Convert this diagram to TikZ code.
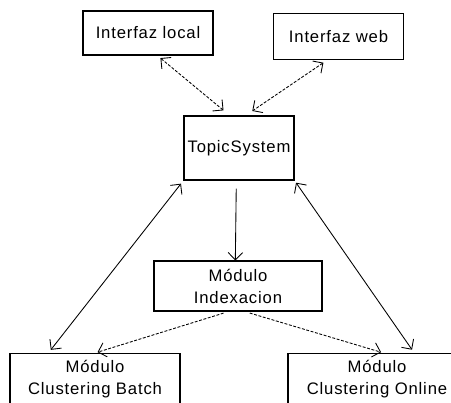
\documentclass[tikz,border=0pt]{standalone}
\usepackage{fontspec}
\setmainfont{Liberation Sans}[LetterSpace=5]
\usetikzlibrary{positioning,calc,arrows.meta}

\tikzset{
	modbox/.style={draw,line width=.8pt,align=center,inner sep=0pt},
	cutbox/.style={modbox,anchor=north,inner ysep=5pt},
	dashlink/.style={dash pattern=on 2.2pt off 1.2pt},
}

\begin{document}
\begin{tikzpicture}[x=.75pt,y=-.75pt,>={Straight Barb[length=5.5pt,width=11pt]},
		line width=.65pt,font=\fontsize{12.5}{16.5}\selectfont]
		\useasboundingbox (0,0) rectangle (451,403);

		\node[modbox,minimum width=97.5pt,minimum height=33pt] (loc) at (148,33) {Interfaz local};
		\node[modbox,minimum width=98pt,minimum height=34pt] (web) at (338.5,36.5) {Interfaz web};
		\node[modbox,minimum width=82.5pt,minimum height=48pt] (ts) at (239,148) {TopicSystem};
		\node[modbox,minimum width=126pt,minimum height=37.5pt] (idx) at (238,286) {Módulo\\Indexacion};
		\node[cutbox,minimum width=127.5pt] (batch) at (95,353) {Módulo\\Clustering Batch\rule[-20pt]{0pt}{0pt}};
		\node[cutbox,minimum width=133.5pt] (online) at (377,353) {Módulo\\Clustering Online\rule[-20pt]{0pt}{0pt}};

		\path[<->,dashlink]
			([xshift=7pt]loc.south) edge[shorten <=3pt,shorten >=6pt] ([xshift=-7pt]ts.north)
			([xshift=-8pt]web.south) edge[shorten <=4pt,shorten >=6pt] ([xshift=5pt]ts.north)
		;
		\path[->]
			([xshift=-2pt]ts.south) edge[shorten <=6pt] ([xshift=-2pt]idx.north)
		;
		\path[<->]
			(ts.south west) edge[shorten <=3pt,shorten >=3pt] ([xshift=-35pt]batch.north)
			(ts.south east) edge[shorten <=2pt,shorten >=3pt] ([xshift=28pt]online.north)
		;
		\path[->,dashlink]
			([xshift=-7pt]idx.south) edge[shorten <=4pt,shorten >=2pt] (batch.north)
			([xshift=5pt]idx.south) edge[shorten <=4pt,shorten >=2pt] ([xshift=5pt]online.north)
		;
	\end{tikzpicture}
\end{document}
